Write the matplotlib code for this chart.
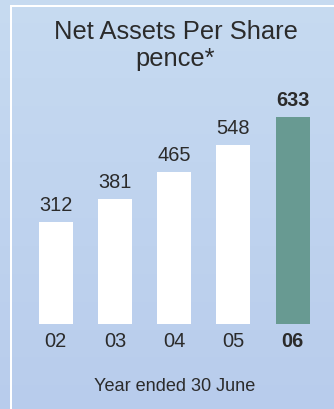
import matplotlib
matplotlib.use("Agg")
import matplotlib.pyplot as plt
import matplotlib.transforms as mtransforms
import numpy as np

# ---- data ----
years = ["02", "03", "04", "05", "06"]
values = [312, 381, 465, 548, 633]
title_line1 = "Net Assets Per Share"
title_line2 = "pence*"
xlabel = "Year ended 30 June"

W, H = 334, 410
DPI = 100
plt.rcParams['font.family'] = ['Liberation Sans', 'DejaVu Sans']
TXT = '#2b2b2b'

fig = plt.figure(figsize=(W / DPI, H / DPI), dpi=DPI, facecolor='#bfd3ee')

# background gradient
bg = fig.add_axes([0, 0, 1, 1], zorder=0)
top_c = np.array([199, 219, 241]) / 255
bot_c = np.array([184, 204, 236]) / 255
t = np.linspace(0, 1, 256)[:, None]
grad = top_c[None, None, :] * (1 - t[..., None]) + bot_c[None, None, :] * t[..., None]
grad = np.repeat(grad, 2, axis=1)
bg.imshow(grad, aspect='auto', extent=[-5, W + 5, H + 5, -5], interpolation='bilinear')
bg.set_xlim(0, W)
bg.set_ylim(H, 0)
bg.axis('off')
# white frame lines (top and left)
bg.plot([11, 11], [7, H + 5], color='white', lw=2 * 72 / DPI, solid_capstyle='butt',
        antialiased=False)
bg.plot([10, W + 5], [7, 7], color='white', lw=2 * 72 / DPI, solid_capstyle='butt',
        antialiased=False)

# bar axes: full width, bottom at y=324.7px
base_px = 324.7
px_per_unit = 206.7 / 633
spacing = 59.3
first_c = 55.6
ax = fig.add_axes([0, (H - base_px) / H, 1, base_px / H], zorder=1)
ax.patch.set_alpha(0)
x = np.arange(len(years))
ax.set_xlim(-first_c / spacing, (W - first_c) / spacing)
ax.set_ylim(0, base_px / px_per_unit)
colors = ['white'] * (len(years) - 1) + ['#689a92']
ax.bar(x, values, width=34 / spacing, color=colors, linewidth=0)
ax.axis('off')

fs_val = 14.4
for i, v in enumerate(values):
    last = i == len(values) - 1
    ax.annotate(str(v), xy=(i, v), xytext=(0, 12 * 72 / DPI), textcoords='offset points',
                ha='center', va='baseline', fontsize=fs_val, color=TXT,
                fontweight='bold' if last else 'normal')

# tick labels
trans = mtransforms.blended_transform_factory(ax.transData, fig.transFigure)
for i, lab in enumerate(years):
    last = i == len(years) - 1
    fig.text(i, (H - 346.7) / H, lab, transform=trans, ha='center', va='baseline',
             fontsize=fs_val, color=TXT, fontweight='bold' if last else 'normal')

fig.text(175 / W, (H - 390.7) / H, xlabel, ha='center', va='baseline',
         fontsize=13.1, color=TXT)
fig.text(176 / W, (H - 39.3) / H, title_line1, ha='center', va='baseline',
         fontsize=18.4, color=TXT)
fig.text(175.5 / W, (H - 66.3) / H, title_line2, ha='center', va='baseline',
         fontsize=18.4, color=TXT)

fig.savefig('out.png', dpi=DPI, facecolor=fig.get_facecolor())
